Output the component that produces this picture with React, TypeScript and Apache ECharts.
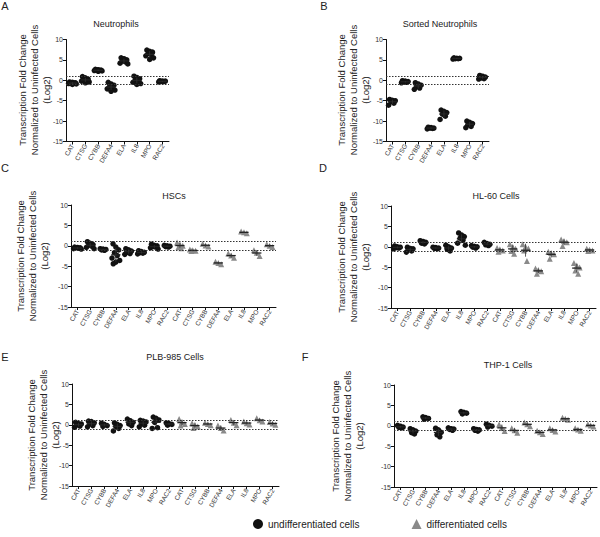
import React, { useEffect, useRef } from "react";
import * as echarts from "echarts";

const FONT = '"Liberation Sans", Arial, Helvetica, sans-serif';

const GENES = ["CAT", "CTSG", "CYBB", "DEFA4", "ELA", "IL8", "MPO", "RAC2"];
const Y_MIN = -15;
const Y_MAX = 10;
const Y_STEP = 5;
const THRESHOLDS = [1, -1];
const Y_NAME = "Transcription Fold Change\nNormalized to Uninfected Cells\n(Log2)";
const LEGEND_NAMES = ["undifferentiated cells", "differentiated cells"];
const UNDIFF_COLOR = "#111";
const DIFF_COLOR = "#8a8a8a";

// Panel A - Neutrophils (undifferentiated only)
const neutrophils = [
  [-0.4, -0.5, -0.6, -0.7, -0.8, -0.9, -1.0, -0.6],
  [0.9, 0.6, 0.3, 0.1, -0.2, -0.4, -0.6, 0.2],
  [2.7, 2.6, 2.5, 2.4, 2.4, 2.3, 2.2, 2.5],
  [-0.5, -0.9, -1.2, -1.5, -1.8, -2.1, -2.4, -2.7],
  [5.5, 5.3, 5.0, 4.8, 4.5, 4.2, 4.0],
  [1.0, 0.7, 0.4, 0.1, -0.2, -0.5, -0.8, -1.0],
  [7.4, 7.1, 6.9, 6.6, 6.3, 6.0, 5.5, 5.1],
  [-0.1, -0.2, -0.3, -0.3, -0.4, -0.2],
];

// Panel B - Sorted Neutrophils
const sortedNeutrophils = [
  [-4.7, -4.9, -5.0, -5.2, -5.6, -6.1],
  [-0.1, -0.2, -0.3, -0.4, -0.5, -0.6],
  [-0.6, -0.9, -1.2, -1.5, -1.9, -2.2],
  [-11.5, -11.6, -11.7, -11.8, -11.9, -11.7],
  [-7.3, -7.6, -7.9, -8.3, -8.8, -9.6],
  [5.5, 5.4, 5.4, 5.3, 5.3, 5.2],
  [-10.0, -10.3, -10.6, -10.9, -11.3, -11.6],
  [1.2, 1.0, 0.8, 0.6, 0.4, 0.3],
];

// Panel C - HSCs
const hscUndiff = [
  [-0.3, -0.4, -0.5, -0.6, -0.7, -0.8, -0.5],
  [1.0, 0.6, 0.2, -0.1, -0.4, -0.7, 0.3],
  [-0.7, -0.8, -0.9, -1.0, -1.1],
  [0.5, -0.3, -1.0, -1.7, -2.4, -3.0, -3.6, -4.0, -4.4],
  [-0.7, -1.0, -1.3, -1.6, -1.9, -2.1],
  [-1.2, -1.4, -1.6, -1.8, -2.0, -1.7],
  [0.4, 0.1, -0.2, -0.5, -0.8, 0.0, -0.3],
  [0.1, 0.0, -0.1, -0.2, -0.3],
];
const hscDiff = [
  [0.8, 0.4, 0.0, -0.3, -0.6],
  [-0.9, -1.1, -1.2, -1.3],
  [0.5, 0.1, -0.2],
  [-3.9, -4.2, -4.5],
  [-1.9, -2.4, -2.9],
  [3.5, 3.3, 3.1],
  [-1.1, -1.7, -2.5],
  [0.4, 0.0, -0.3],
];

// Panel D - HL-60 Cells
const hl60Undiff = [
  [0.2, 0.0, -0.2, -0.3, -0.5, -0.1],
  [-0.1, -0.4, -0.7, -1.0, -1.3, -0.5],
  [1.5, 1.3, 1.1, 0.9, 0.7],
  [-0.1, -0.2, -0.3, -0.4, -0.5],
  [0.4, 0.0, -0.3, -0.6, -1.0],
  [3.4, 2.9, 2.5, 2.1, 1.6, 0.9, 0.4],
  [0.3, 0.1, -0.1, -0.3, 0.0],
  [1.1, 0.8, 0.5, 0.3, 0.6],
];
const hl60Diff = [
  [-0.3, -0.6, -0.9, -1.2],
  [0.6, 0.0, -0.5, -1.0, -1.7],
  [0.6, 0.0, -0.4, -0.9, -3.5],
  [-5.3, -5.7, -6.0, -6.6],
  [-1.2, -1.5, -1.8, -2.9],
  [1.8, 1.4, 1.1, 0.2],
  [-4.0, -4.6, -5.1, -5.8, -6.6],
  [-0.5, -0.7, -0.9, -1.0],
];

// Panel E - PLB-985 Cells
const plbUndiff = [
  [0.6, 0.3, 0.0, -0.3, -0.6, 0.2],
  [0.8, 0.5, 0.2, -0.2, -0.5, 0.9],
  [0.4, 0.1, -0.2, -0.4],
  [0.5, 0.1, -0.4, -0.9, -1.5, -0.2],
  [1.4, 1.0, 0.6, 0.2, -0.2],
  [1.1, 0.7, 0.3, -0.1, -0.5, 0.9],
  [1.9, 1.6, 1.2, 0.6, -0.7, -0.9],
  [0.5, 0.3, 0.1, -0.1],
];
const plbDiff = [
  [1.4, 0.7, 0.2, -0.2],
  [0.4, 0.0, -0.4, -0.8],
  [0.5, 0.2, -0.1],
  [-0.2, -0.8, -1.4],
  [1.2, 0.5, -0.1],
  [0.8, 0.4, 0.1],
  [1.6, 1.1, 0.8],
  [0.7, 0.3, 0.0],
];

// Panel F - THP-1 Cells
const thpUndiff = [
  [0.1, -0.1, -0.3, -0.5, -0.4],
  [-0.7, -1.0, -1.3, -1.7, -2.0],
  [2.2, 2.0, 1.8, 1.6],
  [-0.6, -1.0, -1.6, -2.2, -2.7],
  [-0.5, -0.7, -0.9, -1.1, -0.8],
  [3.5, 3.3, 3.1, 2.9],
  [-0.7, -1.0, -1.3, -1.1, -0.9],
  [0.4, 0.1, -0.1, -0.3],
];
const thpDiff = [
  [0.3, -0.5, -1.3],
  [-0.6, -1.1, -1.7],
  [0.8, 0.4, -0.1],
  [-1.2, -1.6, -2.0],
  [-0.6, -1.0, -1.4],
  [2.0, 1.7, 1.5],
  [-0.6, -0.9, -1.2],
  [0.4, 0.1, -0.2],
];

type Panel = {
  letter: string;
  title: string;
  undiff: number[][];
  diff: number[][] | null;
  grid: { left: number; top: number; width: number; height: number };
  titlePos: [number, number];
  letterPos: [number, number];
  namePos: [number, number];
};

const PANELS: Panel[] = [
  { letter: "A", title: "Neutrophils", undiff: neutrophils, diff: null,
    grid: { left: 66, top: 39.5, width: 103, height: 102 }, titlePos: [116, 24], letterPos: [5, 6], namePos: [34, 90] },
  { letter: "B", title: "Sorted Neutrophils", undiff: sortedNeutrophils, diff: null,
    grid: { left: 386, top: 39.5, width: 103, height: 102 }, titlePos: [440, 24], letterPos: [324, 6], namePos: [353, 90] },
  { letter: "C", title: "HSCs", undiff: hscUndiff, diff: hscDiff,
    grid: { left: 71, top: 205, width: 205, height: 102 }, titlePos: [174, 196], letterPos: [5, 168], namePos: [32, 256] },
  { letter: "D", title: "HL-60 Cells", undiff: hl60Undiff, diff: hl60Diff,
    grid: { left: 391, top: 206, width: 205, height: 102 }, titlePos: [496, 196], letterPos: [323, 168], namePos: [353, 257] },
  { letter: "E", title: "PLB-985 Cells", undiff: plbUndiff, diff: plbDiff,
    grid: { left: 72, top: 384, width: 207, height: 102 }, titlePos: [175, 357], letterPos: [5, 357], namePos: [43, 435] },
  { letter: "F", title: "THP-1 Cells", undiff: thpUndiff, diff: thpDiff,
    grid: { left: 394, top: 385, width: 203, height: 102 }, titlePos: [508, 365], letterPos: [305, 357], namePos: [347, 436] },
];

// beeswarm-like horizontal spread (layout only)
const OFFS = [-0.22, 0, 0.22, -0.11, 0.11, -0.3, 0.3, 0, -0.2, 0.2];

function swarm(groups: number[][], start: number) {
  const out: number[][] = [];
  groups.forEach((vals, g) => {
    const sorted = [...vals].sort((a, b) => b - a);
    sorted.forEach((v, k) => out.push([start + g + OFFS[k % OFFS.length], v]));
  });
  return out;
}

function stats(groups: number[][], start: number) {
  return groups.map((vals, g) => {
    const m = vals.reduce((a, b) => a + b, 0) / vals.length;
    const sd = Math.sqrt(vals.reduce((a, b) => a + (b - m) * (b - m), 0) / Math.max(1, vals.length - 1));
    return [start + g, m, sd];
  });
}

function buildOption() {
  const grid: any[] = [];
  const xAxis: any[] = [];
  const yAxis: any[] = [];
  const series: any[] = [];
  const graphic: any[] = [];

  PANELS.forEach((p, i) => {
    const cats = p.diff ? [...GENES, ...GENES] : GENES;
    const n = cats.length;
    grid.push({ ...p.grid });
    xAxis.push({
      type: "category", gridIndex: i, data: cats, boundaryGap: true,
      axisLine: { show: true, onZero: false, lineStyle: { color: "#111", width: 1 } },
      axisTick: { show: true, alignWithLabel: true, length: 3, lineStyle: { color: "#111" } },
      axisLabel: { rotate: 60, fontSize: 6.5, color: "#333", interval: 0, margin: 3, fontFamily: FONT },
      splitLine: { show: false },
    });
    xAxis.push({ type: "value", gridIndex: i, min: -0.5, max: n - 0.5, show: false });
    yAxis.push({
      type: "value", gridIndex: i, min: Y_MIN, max: Y_MAX, interval: Y_STEP,
      axisLine: { show: true, onZero: false, lineStyle: { color: "#111", width: 1 } },
      axisTick: { show: true, length: 3, lineStyle: { color: "#111" } },
      axisLabel: { fontSize: 7, color: "#333", margin: 3, fontFamily: FONT },
      splitLine: { show: false },
    });

    const xi = 2 * i + 1;
    series.push({
      type: "scatter", name: LEGEND_NAMES[0], xAxisIndex: xi, yAxisIndex: i,
      symbol: "circle", symbolSize: 5.5, z: 3,
      itemStyle: { color: UNDIFF_COLOR, opacity: 1 },
      data: swarm(p.undiff, 0),
      markLine: {
        silent: true, symbol: "none", label: { show: false },
        lineStyle: { type: [1.5, 1.5], color: "#333", width: 1.1 },
        data: THRESHOLDS.map((v) => ({ yAxis: v })),
      },
    });
    if (p.diff) {
      series.push({
        type: "scatter", name: LEGEND_NAMES[1], xAxisIndex: xi, yAxisIndex: i,
        symbol: "triangle", symbolSize: 6, z: 3,
        itemStyle: { color: DIFF_COLOR, opacity: 1 },
        data: swarm(p.diff, GENES.length),
      });
    }
    const st = [...stats(p.undiff, 0), ...(p.diff ? stats(p.diff, GENES.length) : [])];
    series.push({
      type: "custom", name: "mean", xAxisIndex: xi, yAxisIndex: i, z: 4,
      encode: { x: 0, y: 1 },
      data: st,
      renderItem: (params: any, api: any) => {
        const x = api.value(0), m = api.value(1), sd = api.value(2);
        const c = api.coord([x, m]);
        const t = api.coord([x, m + sd]);
        const b = api.coord([x, m - sd]);
        const hw = api.size([1, 0])[0] * 0.36;
        return {
          type: "group",
          children: [
            { type: "line", shape: { x1: c[0] - hw, y1: c[1], x2: c[0] + hw, y2: c[1] }, style: { stroke: "#222", lineWidth: 1.3 } },
            { type: "line", shape: { x1: c[0], y1: t[1], x2: c[0], y2: b[1] }, style: { stroke: "#333", lineWidth: 0.8 } },
          ],
        };
      },
    });

    graphic.push({
      type: "text", x: p.titlePos[0], y: p.titlePos[1],
      style: { text: p.title, fontSize: 9, fill: "#222", align: "center", verticalAlign: "middle", fontFamily: FONT },
    });
    graphic.push({
      type: "text", x: p.letterPos[0], y: p.letterPos[1],
      style: { text: p.letter, fontSize: 11, fill: "#222", align: "center", verticalAlign: "middle", fontFamily: FONT },
    });
    graphic.push({
      type: "text", x: p.namePos[0], y: p.namePos[1], rotation: Math.PI / 2,
      style: { text: Y_NAME, fontSize: 9.5, lineHeight: 12, fill: "#222", align: "center", verticalAlign: "middle", fontFamily: FONT },
    });
  });

  return {
    animation: false,
    backgroundColor: "#fff",
    textStyle: { fontFamily: FONT },
    grid, xAxis, yAxis, series, graphic,
    legend: {
      data: [
        { name: LEGEND_NAMES[0], icon: "circle", itemStyle: { color: UNDIFF_COLOR, opacity: 1 } },
        { name: LEGEND_NAMES[1], icon: "triangle", itemStyle: { color: DIFF_COLOR, opacity: 1 } },
      ],
      selectedMode: false,
      left: 248, top: 514, itemWidth: 10, itemHeight: 10, itemGap: 52,
      textStyle: { fontSize: 10, color: "#222", fontFamily: FONT },
    },
  };
}

export default function App() {
  const ref = useRef<HTMLDivElement>(null);
  useEffect(() => {
    if (!ref.current) return;
    const chart = echarts.init(ref.current, undefined, { renderer: "svg" });
    chart.setOption(buildOption() as any);
    return () => chart.dispose();
  }, []);
  return <div ref={ref} style={{ position: "fixed", left: 0, top: 0, width: 600, height: 537, background: "#fff" }} />;
}
